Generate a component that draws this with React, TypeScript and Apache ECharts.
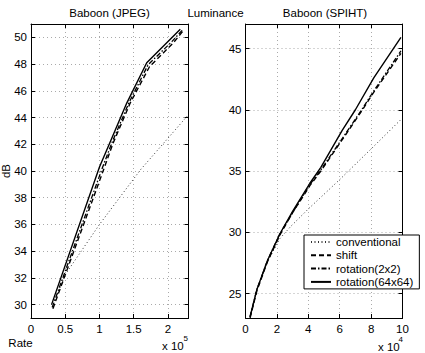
import React, { useEffect, useRef } from 'react';
import * as echarts from 'echarts';

// ---- data ----
const seriesNames = ['conventional', 'shift', 'rotation(2x2)', 'rotation(64x64)'];

// Baboon (JPEG): x in units of 1e5
const jpegConventional = [[0.31, 29.8], [0.5, 32.25], [1.0, 36.0], [1.6, 40.1], [2.28, 44.1]];
const jpegShift = [[0.32, 29.7], [1.06, 40.1], [1.2, 42.1], [1.45, 45.1], [1.73, 47.8], [2.08, 49.6], [2.24, 50.6]];
const jpegRot2 = [[0.31, 29.8], [1.04, 40.2], [1.18, 42.1], [1.43, 45.1], [1.71, 47.95], [2.06, 49.7], [2.22, 50.6]];
const jpegRot64 = [[0.3, 30.0], [1.0, 40.3], [1.15, 42.1], [1.4, 45.1], [1.69, 48.1], [2.18, 50.6]];

// Baboon (SPIHT): x in units of 1e4
const spihtConventional = [[0.29, 23.1], [0.72, 25.3], [1.4, 27.6], [2.2, 29.5], [2.9, 30.5], [4.0, 31.9], [5.0, 33.1], [6.0, 34.3], [8.0, 36.8], [9.9, 39.2]];
const spihtShift = [[0.29, 23.0], [0.72, 25.2], [1.4, 27.6], [2.2, 29.8], [3.0, 31.6], [4.1, 33.8], [4.8, 35.0], [6.4, 38.0], [7.4, 39.9], [8.1, 41.3], [9.9, 44.6]];
const spihtRot2 = [[0.29, 23.1], [0.72, 25.3], [1.4, 27.7], [2.2, 29.9], [3.0, 31.6], [4.1, 33.9], [4.8, 35.1], [6.4, 38.1], [7.4, 40.0], [8.1, 41.4], [9.9, 44.8]];
const spihtRot64 = [[0.29, 23.1], [0.72, 25.3], [1.4, 27.7], [2.2, 29.9], [3.0, 31.7], [4.1, 34.0], [4.8, 35.3], [6.15, 38.3], [7.0, 40.0], [8.17, 42.6], [9.9, 45.9]];

// axis ranges
const jpegX = { min: 0, max: 2.3, interval: 0.5 };
const jpegY = { min: 29, max: 51, splitNumber: 11 };
const spihtX = { min: 0, max: 10, interval: 2 };
const spihtY = { min: 23, max: 47, splitNumber: 5 };

const titles = ['Baboon (JPEG)', 'Luminance', 'Baboon (SPIHT)'];
const jpegExponent = '5';
const spihtExponent = '4';

const FONT = "'Liberation Sans', Arial, Helvetica, sans-serif";
const FS = 11.5;

const lineStyles: any[] = [
  { type: [1, 2.5], width: 1, color: '#333' },
  { type: [5, 3], width: 1.4, color: '#000' },
  { type: [5, 2, 1.5, 2], width: 1.3, color: '#000' },
  { type: 'solid', width: 1.4, color: '#000' },
];

export default function App() {
  const ref = useRef<HTMLDivElement>(null);
  useEffect(() => {
    const chart = echarts.init(ref.current!, null, { renderer: 'svg' });

    const grids = [
      { left: 31, top: 24, width: 157.5, height: 294 },
      { left: 245.5, top: 24, width: 157, height: 294 },
    ];

    const axisLine = { show: true, onZero: false, lineStyle: { color: '#000', width: 1 } };
    const axisTick = { show: true, inside: true, length: 4, lineStyle: { color: '#000', width: 1 } };
    const splitLine = { show: true, lineStyle: { color: '#aaa', type: [1, 3], width: 1 } };
    const label = { color: '#000', fontSize: FS, fontFamily: FONT, margin: 5 };

    const makeX = (gridIndex: number, r: any, showMax: boolean) => [
      {
        type: 'value', gridIndex, position: 'bottom', ...r,
        axisLine, axisTick, splitLine,
        axisLabel: { ...label, showMaxLabel: showMax },
      },
      {
        type: 'value', gridIndex, position: 'top', ...r,
        axisLine, axisTick, splitLine: { show: false }, axisLabel: { show: false },
      },
    ];
    const makeY = (gridIndex: number, r: any) => [
      {
        type: 'value', gridIndex, position: 'left', ...r,
        axisLine, axisTick, splitLine,
        axisLabel: { ...label, margin: 4, showMinLabel: false, showMaxLabel: false },
      },
      {
        type: 'value', gridIndex, position: 'right', ...r,
        axisLine, axisTick, splitLine: { show: false }, axisLabel: { show: false },
      },
    ];

    const makeSeries = (datas: number[][][], axisIndex: number) =>
      datas.map((d, i) => ({
        type: 'line',
        name: seriesNames[i],
        xAxisIndex: axisIndex,
        yAxisIndex: axisIndex,
        data: d,
        symbol: 'none',
        showSymbol: false,
        silent: true,
        lineStyle: lineStyles[i],
      }));

    const text = (t: string, x: number, y: number, extra: any = {}) => ({
      type: 'text', x, y,
      style: { text: t, fill: '#000', font: `${FS}px ${FONT}`, align: 'center', verticalAlign: 'middle', ...extra },
    });

    const option: any = {
      animation: false,
      backgroundColor: '#fff',
      grid: grids,
      xAxis: [...makeX(0, jpegX, false), ...makeX(1, spihtX, true)],
      yAxis: [...makeY(0, jpegY), ...makeY(1, spihtY)],
      legend: {
        orient: 'vertical',
        left: 304,
        top: 235,
        itemWidth: 20,
        itemHeight: 12,
        itemGap: 1.3,
        padding: [1, 6, 1, 6],
        backgroundColor: '#fff',
        borderColor: '#000',
        borderWidth: 1,
        borderRadius: 0,
        itemStyle: { opacity: 0 },
        textStyle: { fontSize: FS, color: '#000', fontFamily: FONT },
        data: seriesNames,
        selectedMode: false,
      },
      series: [
        ...makeSeries([jpegConventional, jpegShift, jpegRot2, jpegRot64], 0),
        ...makeSeries([spihtConventional, spihtShift, spihtRot2, spihtRot64], 2),
      ],
      graphic: [
        text(titles[0], 109.5, 12.5),
        text(titles[1], 215.5, 12.5),
        text(titles[2], 325, 12.5),
        { ...text('dB', 5.5, 171), rotation: Math.PI / 2 },
        text('Rate', 20.5, 343),
        text('x 10', 162, 346, { align: 'left' }),
        text(jpegExponent, 183.5, 338, { align: 'left', font: `8px ${FONT}` }),
        text('x 10', 378, 347, { align: 'left' }),
        text(spihtExponent, 398.5, 339, { align: 'left', font: `8px ${FONT}` }),
      ],
    };

    chart.setOption(option);
    return () => chart.dispose();
  }, []);

  return (
    <div
      ref={ref}
      style={{ position: 'fixed', left: 0, top: 0, width: 425, height: 353, background: '#fff' }}
    />
  );
}
